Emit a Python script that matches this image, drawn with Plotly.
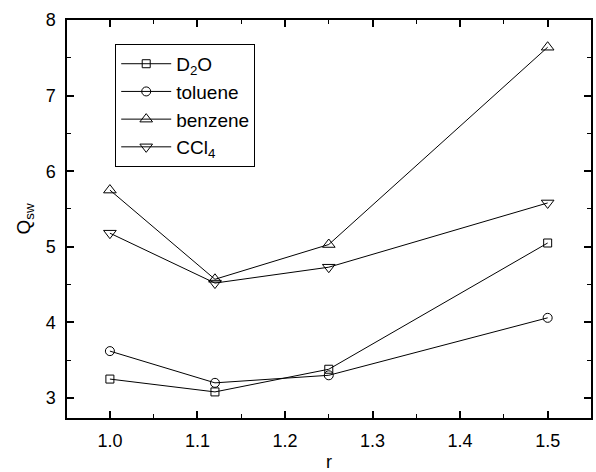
import plotly.graph_objects as go

r = [1.0, 1.12, 1.25, 1.5]
d2o = [3.25, 3.08, 3.38, 5.05]
toluene = [3.62, 3.20, 3.30, 4.06]
benzene = [5.75, 4.57, 5.03, 7.64]
ccl4 = [5.18, 4.52, 4.73, 5.58]

names = ["D<sub>2</sub>O", "toluene", "benzene", "CCl<sub>4</sub>"]
symbols = ["square-open", "circle-open", "triangle-up-open", "triangle-down-open"]
sizes = [8, 9, 11, 11]
series = [d2o, toluene, benzene, ccl4]

FONT = "Liberation Sans, Arial"

fig = go.Figure()
for name, sym, sz, ys in zip(names, symbols, sizes, series):
    fig.add_trace(go.Scatter(
        x=r, y=ys, mode="lines+markers", name=name,
        line=dict(color="black", width=1),
        marker=dict(symbol=sym, size=sz, color="black", line=dict(color="black", width=1)),
    ))

axis_common = dict(
    showline=True, linecolor="black", linewidth=1.5, mirror="ticks",
    ticks="inside", ticklen=7, tickwidth=1.5, tickcolor="black",
    showgrid=False, zeroline=False, ticklabelstandoff=6, automargin=False,
    tickfont=dict(family=FONT, size=18, color="black"),
)

fig.update_layout(
    width=596, height=472,
    margin=dict(l=67, r=5, t=20, b=54),
    plot_bgcolor="white", paper_bgcolor="white",
    showlegend=True,
    legend=dict(x=0.092, y=0.94, xanchor="left", yanchor="top",
                bordercolor="black", borderwidth=1, bgcolor="white",
                font=dict(family=FONT, size=19, color="black"),
                tracegroupgap=0, itemwidth=50),
    xaxis=dict(range=[0.951, 1.5495], tickvals=[1.0, 1.1, 1.2, 1.3, 1.4, 1.5],
               ticktext=["1.0", "1.1", "1.2", "1.3", "1.4", "1.5"],
               title=dict(text="r", font=dict(family=FONT, size=18, color="black"), standoff=6),
               minor=dict(ticks="inside", ticklen=4, tickwidth=1, tickcolor="black", dtick=0.05, tick0=1.0),
               **axis_common),
    yaxis=dict(range=[2.735, 8.0], dtick=1, tick0=3,
               title=dict(text="Q<sub>sw</sub>", font=dict(family=FONT, size=19, color="black"), standoff=10),
               minor=dict(ticks="inside", ticklen=4, tickwidth=1, tickcolor="black", dtick=0.5, tick0=3),
               **axis_common),
    font=dict(family=FONT, color="black"),
)

fig.write_html("out.html")
